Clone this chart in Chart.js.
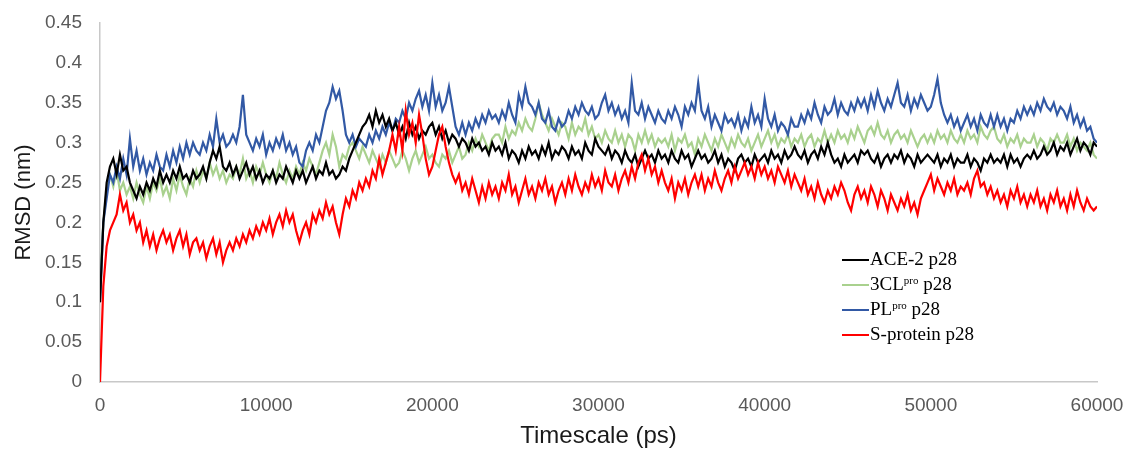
<!DOCTYPE html>
<html>
<head>
<meta charset="utf-8">
<script src="https://cdn.jsdelivr.net/npm/chart.js@4.4.0/dist/chart.umd.min.js"></script>
<style>
	html, body { margin: 0; padding: 0; background: #fff; }
	#wrap { position: relative; width: 1125px; height: 451px; }
	#legend { position: absolute; left: 842px; top: 246px; font-family: "Liberation Serif", "Times New Roman", serif; font-size: 19px; color: #000; }
	#legend .row { height: 25px; line-height: 25px; white-space: nowrap; }
	#legend .swatch { display: inline-block; width: 27px; height: 2px; vertical-align: middle; margin-right: 1px; position: relative; top: -1px; }
	#legend sup { font-size: 11px; vertical-align: 6px; line-height: 0; }
</style>
</head>
<body>
<div id="wrap">
	<canvas id="rmsdChart" width="1125" height="451"></canvas>
	<div id="legend"></div>
</div>
<script>
// sampling interval of the traces (ps)
var timeStep = 200;

var xTicks = [0, 10000, 20000, 30000, 40000, 50000, 60000];
var yTicks = [0, 0.05, 0.1, 0.15, 0.2, 0.25, 0.3, 0.35, 0.4, 0.45];

var seriesNames = ['ACE-2 p28', '3CL<sup>pro</sup> p28', 'PL<sup>pro</sup> p28', 'S-protein p28'];
var seriesColors = ['#000000', '#a9d18e', '#3259a5', '#ff0000'];

// RMSD (nm), one value every 200 ps, 0..60000 (one row = 2000 ps)
var ace2 = [
	0.1, 0.2, 0.25, 0.27, 0.28, 0.26, 0.285, 0.265, 0.27, 0.25,
	0.24, 0.23, 0.245, 0.235, 0.25, 0.24, 0.255, 0.245, 0.265, 0.25,
	0.26, 0.25, 0.265, 0.255, 0.27, 0.255, 0.26, 0.25, 0.265, 0.255,
	0.26, 0.27, 0.255, 0.275, 0.29, 0.28, 0.295, 0.27, 0.265, 0.275,
	0.26, 0.27, 0.255, 0.265, 0.275, 0.26, 0.27, 0.255, 0.265, 0.25,
	0.26, 0.255, 0.265, 0.25, 0.26, 0.255, 0.27, 0.26, 0.25, 0.265,
	0.255, 0.265, 0.25, 0.26, 0.27, 0.255, 0.265, 0.26, 0.275, 0.26,
	0.265, 0.255, 0.26, 0.27, 0.265, 0.28, 0.29, 0.3, 0.31, 0.32,
	0.325, 0.335, 0.32, 0.34, 0.325, 0.335, 0.32, 0.33, 0.315, 0.325,
	0.31, 0.32, 0.305, 0.325, 0.31, 0.32, 0.305, 0.315, 0.31, 0.32,
	0.325, 0.31, 0.32, 0.305, 0.315, 0.3, 0.31, 0.305, 0.295, 0.305,
	0.3, 0.29, 0.305, 0.295, 0.3, 0.29, 0.295, 0.285, 0.3, 0.29,
	0.295, 0.285, 0.3, 0.28, 0.29, 0.285, 0.275, 0.29, 0.28, 0.295,
	0.285, 0.29, 0.28, 0.295, 0.285, 0.3, 0.28, 0.29, 0.285, 0.295,
	0.29, 0.28, 0.295, 0.285, 0.29, 0.28, 0.3, 0.29, 0.285, 0.305,
	0.295, 0.29, 0.285, 0.295, 0.28, 0.29, 0.285, 0.275, 0.29, 0.28,
	0.275, 0.285, 0.27, 0.28, 0.29, 0.28, 0.285, 0.275, 0.29, 0.28,
	0.285, 0.275, 0.29, 0.28, 0.275, 0.29, 0.28, 0.285, 0.27, 0.28,
	0.29, 0.28, 0.285, 0.275, 0.28, 0.29, 0.275, 0.285, 0.27, 0.28,
	0.275, 0.265, 0.28, 0.285, 0.275, 0.28, 0.27, 0.285, 0.275, 0.28,
	0.285, 0.275, 0.29, 0.28, 0.285, 0.275, 0.29, 0.28, 0.285, 0.295,
	0.285, 0.28, 0.29, 0.275, 0.285, 0.29, 0.28, 0.295, 0.285, 0.3,
	0.285, 0.275, 0.28, 0.27, 0.285, 0.275, 0.28, 0.285, 0.275, 0.29,
	0.285, 0.29, 0.28, 0.275, 0.285, 0.27, 0.28, 0.285, 0.275, 0.285,
	0.28, 0.29, 0.275, 0.285, 0.28, 0.27, 0.285, 0.275, 0.28, 0.285,
	0.28, 0.275, 0.285, 0.27, 0.28, 0.275, 0.285, 0.27, 0.28, 0.275,
	0.275, 0.285, 0.27, 0.28, 0.275, 0.265, 0.28, 0.275, 0.285, 0.275,
	0.28, 0.275, 0.285, 0.27, 0.285, 0.275, 0.28, 0.27, 0.28, 0.285,
	0.28, 0.29, 0.28, 0.285, 0.295, 0.285, 0.29, 0.3, 0.285, 0.295,
	0.29, 0.3, 0.285, 0.295, 0.305, 0.29, 0.3, 0.295, 0.285, 0.3,
	0.295
];
var clpro = [
	0.13, 0.2, 0.24, 0.26, 0.245, 0.265, 0.24, 0.25, 0.235, 0.245,
	0.23, 0.25, 0.235, 0.225, 0.245, 0.23, 0.25, 0.24, 0.255, 0.235,
	0.245, 0.23, 0.255, 0.24, 0.26, 0.245, 0.235, 0.255, 0.245, 0.265,
	0.25, 0.265, 0.255, 0.275, 0.26, 0.27, 0.255, 0.265, 0.25, 0.26,
	0.255, 0.27, 0.26, 0.28, 0.255, 0.265, 0.25, 0.27, 0.26, 0.275,
	0.26, 0.25, 0.265, 0.255, 0.275, 0.26, 0.25, 0.265, 0.255, 0.27,
	0.26, 0.275, 0.265, 0.28, 0.27, 0.26, 0.275, 0.29, 0.3, 0.285,
	0.31, 0.295, 0.27, 0.285, 0.28, 0.295, 0.3, 0.29, 0.28, 0.295,
	0.285, 0.275, 0.29, 0.28, 0.27, 0.285, 0.275, 0.29, 0.28, 0.27,
	0.275, 0.29, 0.28, 0.265, 0.28, 0.29, 0.275, 0.285, 0.295, 0.28,
	0.285, 0.275, 0.27, 0.285, 0.28, 0.29, 0.275, 0.285, 0.295, 0.28,
	0.285, 0.3, 0.29, 0.305, 0.295, 0.31, 0.3, 0.29, 0.305, 0.31,
	0.31, 0.3, 0.32, 0.305, 0.315, 0.31, 0.325, 0.315, 0.33, 0.32,
	0.315, 0.33, 0.35, 0.335, 0.325, 0.315, 0.33, 0.32, 0.31, 0.325,
	0.32, 0.305, 0.325, 0.31, 0.32, 0.315, 0.33, 0.31, 0.32, 0.305,
	0.31, 0.3, 0.315, 0.305, 0.3, 0.315, 0.3, 0.31, 0.295, 0.31,
	0.305, 0.29, 0.31, 0.3, 0.315, 0.3, 0.31, 0.295, 0.305, 0.3,
	0.305, 0.295, 0.31, 0.29, 0.305, 0.3, 0.31, 0.295, 0.3, 0.285,
	0.305, 0.295, 0.31, 0.3, 0.29, 0.305, 0.295, 0.31, 0.3, 0.29,
	0.305, 0.295, 0.31, 0.3, 0.295, 0.305, 0.29, 0.3, 0.31, 0.295,
	0.305, 0.315, 0.3, 0.31, 0.295, 0.305, 0.3, 0.31, 0.295, 0.305,
	0.3, 0.31, 0.295, 0.305, 0.31, 0.295, 0.305, 0.3, 0.315, 0.3,
	0.31, 0.3, 0.315, 0.305, 0.31, 0.3, 0.315, 0.305, 0.32, 0.31,
	0.3, 0.315, 0.32, 0.31, 0.325, 0.31, 0.305, 0.315, 0.3, 0.31,
	0.315, 0.305, 0.31, 0.3, 0.315, 0.305, 0.295, 0.305, 0.31, 0.3,
	0.31, 0.3, 0.315, 0.305, 0.31, 0.3, 0.315, 0.305, 0.3, 0.31,
	0.3, 0.315, 0.305, 0.31, 0.3, 0.32, 0.31, 0.305, 0.315, 0.32,
	0.305, 0.3, 0.31, 0.295, 0.305, 0.3, 0.31, 0.295, 0.305, 0.3,
	0.3, 0.31, 0.295, 0.305, 0.3, 0.29, 0.305, 0.3, 0.31, 0.3,
	0.3, 0.31, 0.295, 0.305, 0.29, 0.3, 0.295, 0.29, 0.3, 0.285,
	0.28
];
var plpro = [
	0.1, 0.2, 0.23, 0.26, 0.25, 0.27, 0.255, 0.28, 0.26, 0.305,
	0.27, 0.29, 0.265, 0.28, 0.26, 0.275, 0.265, 0.285, 0.27, 0.265,
	0.285, 0.27, 0.29, 0.275, 0.295, 0.28, 0.3, 0.285, 0.3, 0.29,
	0.285, 0.3, 0.29, 0.31, 0.295, 0.33, 0.3, 0.31, 0.295, 0.3,
	0.31, 0.3, 0.32, 0.36, 0.31, 0.3, 0.29, 0.305, 0.295, 0.31,
	0.285, 0.3, 0.29, 0.305, 0.295, 0.31, 0.29, 0.3, 0.285, 0.295,
	0.275, 0.27, 0.29, 0.3, 0.29, 0.31, 0.3, 0.32, 0.34, 0.35,
	0.37, 0.355, 0.365, 0.34, 0.31, 0.3, 0.31, 0.295, 0.305, 0.3,
	0.295, 0.31, 0.3, 0.315, 0.305, 0.32, 0.31, 0.325, 0.315, 0.33,
	0.325, 0.34, 0.33, 0.35, 0.34, 0.355, 0.365, 0.345, 0.36, 0.34,
	0.375, 0.345, 0.36, 0.34, 0.35, 0.37, 0.345, 0.32, 0.31, 0.325,
	0.31, 0.325, 0.315, 0.33, 0.32, 0.335, 0.325, 0.34, 0.33, 0.335,
	0.325, 0.34, 0.33, 0.35, 0.335, 0.325, 0.36, 0.345, 0.37, 0.35,
	0.345, 0.335, 0.35, 0.33, 0.325, 0.34, 0.32, 0.315, 0.33, 0.32,
	0.325, 0.34, 0.33, 0.345, 0.335, 0.35, 0.34, 0.335, 0.345, 0.33,
	0.335, 0.35, 0.36, 0.34, 0.35, 0.335, 0.345, 0.33, 0.34, 0.325,
	0.375, 0.34, 0.335, 0.35, 0.33, 0.345, 0.335, 0.325, 0.34, 0.33,
	0.325, 0.34, 0.33, 0.345, 0.335, 0.32, 0.345, 0.335, 0.35, 0.34,
	0.375, 0.34, 0.33, 0.345, 0.32, 0.335, 0.325, 0.315, 0.335, 0.325,
	0.33, 0.32, 0.335, 0.315, 0.33, 0.32, 0.345, 0.325, 0.335, 0.32,
	0.355, 0.33, 0.32, 0.335, 0.315, 0.325, 0.32, 0.31, 0.33, 0.32,
	0.32, 0.335, 0.325, 0.34, 0.33, 0.35, 0.335, 0.325, 0.345, 0.335,
	0.34, 0.355, 0.335, 0.35, 0.34, 0.335, 0.35, 0.34, 0.355, 0.345,
	0.355, 0.34, 0.36, 0.345, 0.365, 0.35, 0.34, 0.355, 0.345, 0.36,
	0.375, 0.35, 0.345, 0.36, 0.34, 0.355, 0.345, 0.36, 0.35, 0.34,
	0.345, 0.36, 0.38, 0.35, 0.335, 0.325, 0.335, 0.32, 0.33, 0.315,
	0.325, 0.335, 0.32, 0.33, 0.315, 0.335, 0.325, 0.32, 0.335, 0.32,
	0.335, 0.32, 0.33, 0.315, 0.33, 0.325, 0.34, 0.33, 0.345, 0.335,
	0.345, 0.335, 0.35, 0.34, 0.355, 0.345, 0.34, 0.35, 0.335, 0.345,
	0.34, 0.33, 0.345, 0.325, 0.335, 0.32, 0.33, 0.315, 0.32, 0.305,
	0.3
];
var sprotein = [
	0, 0.12, 0.17, 0.19, 0.2, 0.21, 0.235, 0.215, 0.225, 0.2,
	0.21, 0.19, 0.2, 0.175, 0.19, 0.17, 0.185, 0.165, 0.18, 0.19,
	0.175, 0.185, 0.165, 0.18, 0.19, 0.17, 0.185, 0.16, 0.175, 0.18,
	0.165, 0.175, 0.155, 0.17, 0.18, 0.16, 0.175, 0.15, 0.165, 0.175,
	0.165, 0.18, 0.17, 0.185, 0.175, 0.19, 0.18, 0.195, 0.185, 0.2,
	0.19, 0.205, 0.185, 0.2, 0.21, 0.195, 0.215, 0.2, 0.21, 0.19,
	0.175, 0.19, 0.2, 0.185, 0.21, 0.2, 0.215, 0.205, 0.225, 0.21,
	0.22, 0.2, 0.185, 0.21, 0.23, 0.22, 0.24, 0.23, 0.25, 0.24,
	0.255, 0.245, 0.265, 0.255, 0.28, 0.26, 0.275, 0.29, 0.31, 0.29,
	0.32, 0.29, 0.34, 0.31, 0.325, 0.3, 0.335, 0.31, 0.28, 0.26,
	0.27, 0.29, 0.31, 0.32, 0.295, 0.275, 0.26, 0.25, 0.26, 0.24,
	0.25, 0.235, 0.255, 0.24, 0.225, 0.245, 0.23, 0.25, 0.235, 0.245,
	0.23, 0.25, 0.24, 0.26, 0.235, 0.245, 0.225, 0.24, 0.255, 0.235,
	0.245, 0.23, 0.25, 0.24, 0.255, 0.235, 0.245, 0.225, 0.24, 0.25,
	0.235, 0.255, 0.24, 0.26, 0.245, 0.235, 0.25, 0.24, 0.26, 0.245,
	0.255, 0.24, 0.265, 0.25, 0.245, 0.26, 0.24, 0.255, 0.265, 0.25,
	0.27, 0.255, 0.275, 0.285, 0.265, 0.28, 0.26, 0.27, 0.25, 0.265,
	0.25, 0.24, 0.255, 0.23, 0.25, 0.24, 0.255, 0.235, 0.25, 0.26,
	0.245, 0.26, 0.24, 0.255, 0.245, 0.265, 0.25, 0.24, 0.255, 0.265,
	0.25, 0.27, 0.255, 0.265, 0.275, 0.26, 0.27, 0.255, 0.275, 0.26,
	0.27, 0.255, 0.265, 0.25, 0.27, 0.26, 0.25, 0.265, 0.245, 0.26,
	0.25, 0.24, 0.255, 0.235, 0.245, 0.23, 0.25, 0.235, 0.225, 0.24,
	0.23, 0.245, 0.235, 0.25, 0.24, 0.225, 0.215, 0.235, 0.245, 0.23,
	0.24, 0.225, 0.245, 0.235, 0.22, 0.24, 0.23, 0.215, 0.235, 0.225,
	0.215, 0.23, 0.22, 0.235, 0.215, 0.225, 0.21, 0.23, 0.24, 0.25,
	0.26, 0.24, 0.255, 0.245, 0.235, 0.25, 0.24, 0.255, 0.235, 0.245,
	0.24, 0.25, 0.235, 0.255, 0.265, 0.245, 0.25, 0.235, 0.245, 0.23,
	0.24, 0.225, 0.235, 0.22, 0.24, 0.23, 0.245, 0.225, 0.235, 0.22,
	0.235, 0.225, 0.24, 0.22, 0.23, 0.215, 0.235, 0.225, 0.24, 0.22,
	0.23, 0.215, 0.235, 0.22, 0.24, 0.225, 0.215, 0.23, 0.22, 0.215,
	0.22
];

function toPoints(values) {
	return values.map(function(v, i) { return { x: i * timeStep, y: v }; });
}

var seriesData = [ace2, clpro, plpro, sprotein];
// drawing order: red on top, then black, blue, green
var drawOrder = [1, 3, 2, 0];

var datasets = seriesData.map(function(values, i) {
	return {
		label: seriesNames[i].replace(/<\/?sup>/g, ''),
		data: toPoints(values),
		borderColor: seriesColors[i],
		backgroundColor: seriesColors[i],
		borderWidth: 2.2,
		pointRadius: 0,
		tension: 0,
		order: drawOrder[i]
	};
});

var tickFont = { family: '"Liberation Sans", Arial, sans-serif', size: 19 };

new Chart(document.getElementById('rmsdChart').getContext('2d'), {
	type: 'line',
	data: { datasets: datasets },
	options: {
		responsive: false,
		animation: false,
		layout: { padding: { top: 23, right: 28, left: 0, bottom: 0 } },
		plugins: {
			legend: { display: false },
			tooltip: { enabled: false }
		},
		scales: {
			x: {
				type: 'linear',
				min: 0,
				max: 60000,
				afterBuildTicks: function(scale) {
					scale.ticks = xTicks.map(function(v) { return { value: v }; });
				},
				afterFit: function(scale) {
					scale.height = 69;
					scale.paddingLeft = 0;
					scale.paddingRight = 0;
				},
				grid: { display: false, drawTicks: false },
				border: { display: true, color: '#c8c8c8', width: 1.5 },
				ticks: {
					font: tickFont,
					color: '#595959',
					padding: 12,
					maxRotation: 0,
					callback: function(value) { return String(value); }
				},
				title: {
					display: true,
					text: 'Timescale (ps)',
					font: { family: '"Liberation Sans", Arial, sans-serif', size: 24 },
					color: '#1a1a1a',
					padding: { top: 0, bottom: 0 }
				}
			},
			y: {
				min: 0,
				max: 0.45,
				afterBuildTicks: function(scale) {
					scale.ticks = yTicks.map(function(v) { return { value: v }; });
				},
				afterFit: function(scale) {
					scale.width = 100;
					scale.paddingTop = 0;
					scale.paddingBottom = 0;
				},
				grid: { display: false, drawTicks: false },
				border: { display: true, color: '#c8c8c8', width: 1.5 },
				ticks: {
					font: tickFont,
					color: '#595959',
					padding: 18,
					callback: function(value) { return String(+value.toFixed(2)); }
				},
				title: {
					display: true,
					text: 'RMSD (nm)',
					font: { family: '"Liberation Sans", Arial, sans-serif', size: 22 },
					color: '#1a1a1a',
					padding: { top: 11, bottom: 0 }
				}
			}
		}
	}
});

// legend with superscripts, built from the same series lists
var legendEl = document.getElementById('legend');
seriesNames.forEach(function(name, i) {
	var row = document.createElement('div');
	row.className = 'row';
	row.innerHTML = '<span class="swatch" style="background:' + seriesColors[i] + '"></span>' + name;
	legendEl.appendChild(row);
});
</script>
</body>
</html>
